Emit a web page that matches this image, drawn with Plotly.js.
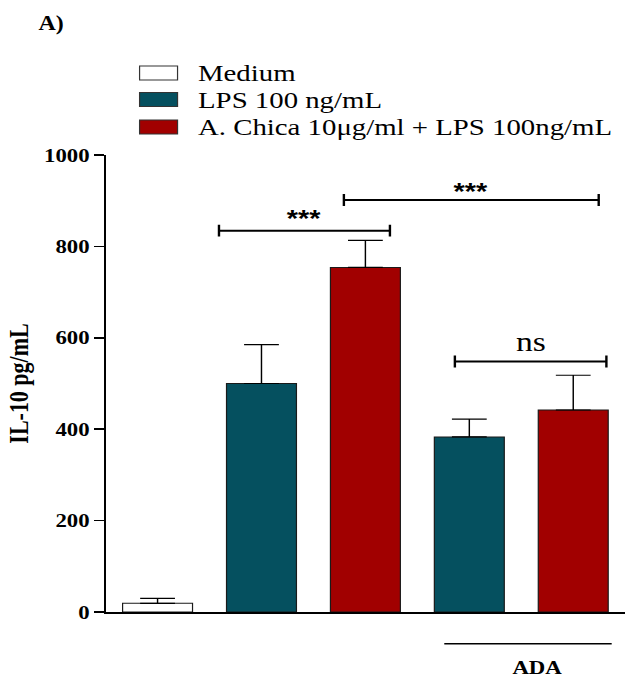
<!DOCTYPE html>
<html>
<head>
<meta charset="utf-8">
<script src="https://cdn.plot.ly/plotly-3.0.1.min.js"></script>
<style>
  html, body { margin: 0; padding: 0; background: #fff; overflow: hidden; }
  #chart { width: 520.83px; height: 680px; transform: scaleX(1.2); transform-origin: 0 0; }
</style>
</head>
<body>
<div id="chart"></div>
<script>
// ---- data ----
const seriesNames = ['Medium', 'LPS 100 ng/mL', 'A. Chica 10μg/ml + LPS 100ng/mL'];
const mediumX = [0];
const mediumValues = [19];
const mediumErr = [11];
const lpsX = [1, 3];
const lpsValues = [500, 383];
const lpsErr = [85, 39];
const chicaX = [2, 4];
const chicaValues = [754, 442];
const chicaErr = [59, 76];
const yTickVals = [0, 200, 400, 600, 800, 1000];
const yTickText = ['0', '200', '400', '600', '800', '1000'];
const sigLabels = ['***', '***', 'ns'];
const groupLabel = 'ADA';
const panelLabel = 'A)';
const yTitle = 'IL-10 pg/mL';

// ---- geometry helpers (real pixel -> paper) ----
const S = 1.2, L = 87.5, PW = 433.33, Y0 = 612.3, PH = 457.3;
const px = x => (x / S - L) / PW;
const py = y => (Y0 - y) / PH;

const colors = ['#ffffff', '#05505F', '#A10000'];
const serif = 'Liberation Serif, Times New Roman, serif';
const sans = 'Liberation Sans, Arial, sans-serif';

function barTrace(name, x, y, err, color) {
  return {
    type: 'bar', name: name, x: x, y: y, width: 0.673,
    marker: { color: color, line: { color: '#1a1a1a', width: 1 } },
    error_y: { type: 'data', array: err, symmetric: false, arrayminus: err.map(() => 0),
               color: '#000', thickness: 1.2, width: 14.5 },
    showlegend: false, hoverinfo: 'x+y'
  };
}

const data = [
  barTrace(seriesNames[0], mediumX, mediumValues, mediumErr, colors[0]),
  barTrace(seriesNames[1], lpsX, lpsValues, lpsErr, colors[1]),
  barTrace(seriesNames[2], chicaX, chicaValues, chicaErr, colors[2])
];

const shapes = [];
const annotations = [];

// legend (manual, to match the large boxes)
const legendRows = [73, 99.5, 127];
seriesNames.forEach((n, i) => {
  shapes.push({ type: 'rect', xref: 'paper', yref: 'paper',
    x0: px(139), x1: px(177), y0: py(legendRows[i] + 7), y1: py(legendRows[i] - 7),
    fillcolor: colors[i], line: { color: '#333', width: 1 } });
  annotations.push({ xref: 'paper', yref: 'paper', x: px(195), y: py(legendRows[i]),
    xanchor: 'left', yanchor: 'middle', text: n, showarrow: false,
    font: { family: serif, size: 24, color: '#000' } });
});

// significance brackets (data coords)
const brackets = [
  { x0: 0.591, x1: 2.236, y: 834.5, label: sigLabels[0], font: sans, size: 24, weight: 'bold', ty: 862 },
  { x0: 1.793, x1: 4.245, y: 901.6, label: sigLabels[1], font: sans, size: 24, weight: 'bold', ty: 920 },
  { x0: 2.861, x1: 4.319, y: 548, label: sigLabels[2], font: serif, size: 28, weight: 'normal', ty: 592 }
];
brackets.forEach(b => {
  const h = 13;
  shapes.push({ type: 'path', xref: 'x', yref: 'y',
    path: `M${b.x0},${b.y} L${b.x1},${b.y} M${b.x0},${b.y - h} L${b.x0},${b.y + h} M${b.x1},${b.y - h} L${b.x1},${b.y + h}`,
    line: { color: '#000', width: 2 } });
  annotations.push({ xref: 'x', yref: 'y', x: (b.x0 + b.x1) / 2, y: b.ty,
    xanchor: 'center', yanchor: 'middle', text: b.label, showarrow: false,
    font: { family: b.font, size: b.size, weight: b.weight, color: '#000' } });
});

// ADA group line and label
shapes.push({ type: 'line', xref: 'x', yref: 'paper', x0: 2.759, x1: 4.37, y0: py(644), y1: py(644),
  line: { color: '#000', width: 1.5 } });
annotations.push({ xref: 'x', yref: 'paper', x: 3.649, y: py(668), xanchor: 'center', yanchor: 'middle',
  text: groupLabel, showarrow: false, font: { family: serif, size: 19, weight: 'bold', color: '#000' } });

// panel label
annotations.push({ xref: 'paper', yref: 'paper', x: px(35), y: py(23), xanchor: 'left', yanchor: 'middle',
  text: panelLabel, showarrow: false, font: { family: serif, size: 20, weight: 'bold', color: '#000' } });

const layout = {
  width: 520.83, height: 680,
  margin: { l: 87.5, r: 0, t: 155, b: 67.7, pad: 0 },
  paper_bgcolor: '#fff', plot_bgcolor: '#fff',
  barmode: 'overlay',
  showlegend: false,
  xaxis: { range: [-0.5, 4.5], showticklabels: false, ticks: '', showgrid: false, zeroline: false,
           showline: true, linecolor: '#000', linewidth: 1.5, fixedrange: true },
  yaxis: { range: [0, 1000], tickvals: yTickVals, ticktext: yTickText, ticks: 'outside', ticklen: 8,
           tickwidth: 1.5, tickcolor: '#000', showgrid: false, zeroline: false,
           showline: true, linecolor: '#000', linewidth: 1.5,
           tickfont: { family: serif, size: 19, weight: 'bold', color: '#000' },
           title: { text: yTitle, standoff: 6, font: { family: serif, size: 22, weight: 'bold', color: '#000' } },
           automargin: false, fixedrange: true },
  shapes: shapes,
  annotations: annotations
};

Plotly.newPlot('chart', data, layout, { displayModeBar: false, staticPlot: true });
</script>
</body>
</html>
